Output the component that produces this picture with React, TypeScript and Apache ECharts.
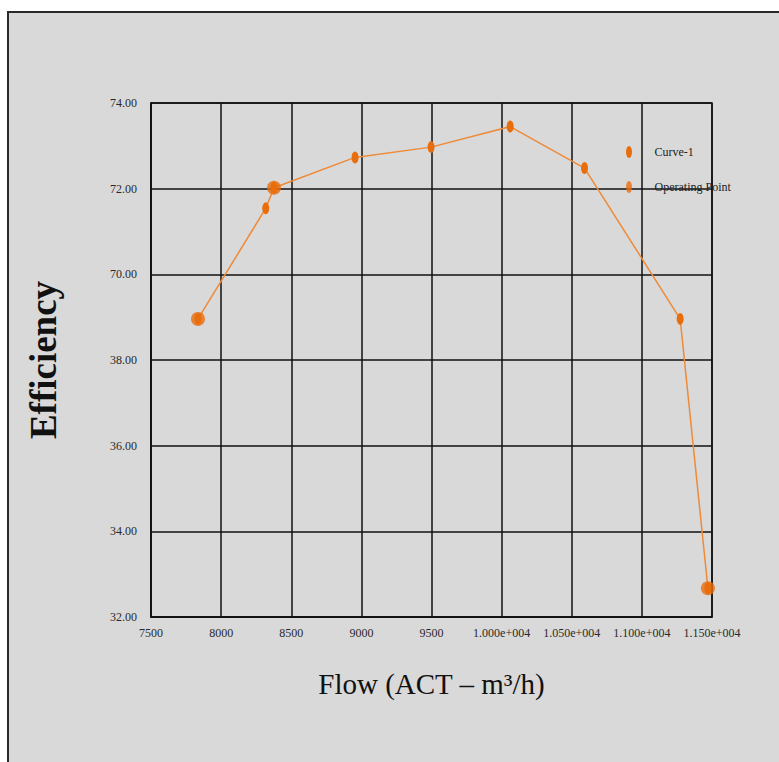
import React, { useEffect, useRef } from "react";
import * as echarts from "echarts";

const flow = [7835, 8318, 8377, 8955, 9497, 10061, 10591, 11273, 11471];
const efficiency = [68.96, 71.54, 72.02, 72.73, 72.97, 73.45, 72.48, 68.96, 62.67];
const opFlow = [7835, 8377, 11471];
const opEfficiency = [68.96, 72.02, 62.67];
const yTickLabels = ["32.00", "34.00", "36.00", "38.00", "70.00", "72.00", "74.00"];
const xTickLabels = ["7500", "8000", "8500", "9000", "9500", "1.000e+004", "1.050e+004", "1.100e+004", "1.150e+004"];

const ELLIPSE = "path://M5,0A5,10,0,1,1,5,20A5,10,0,1,1,5,0Z";
const SERIF = "'Liberation Serif', 'DejaVu Serif', serif";

export default function App() {
  const ref = useRef<HTMLDivElement>(null);
  useEffect(() => {
    if (!ref.current) return;
    const chart = echarts.init(ref.current, null, { renderer: "svg" });
    chart.setOption({
      animation: false,
      backgroundColor: "#ffffff",
      graphic: [
        {
          type: "rect",
          z: -10,
          silent: true,
          shape: { x: 8, y: 12, width: 800, height: 800 },
          style: { fill: "#d9d9d9", stroke: "#2a2a2a", lineWidth: 2 },
        },
      ],
      grid: { left: 151, top: 103, width: 561, height: 514, show: true, borderColor: "#111", borderWidth: 1.5 },
      legend: {
        orient: "vertical",
        left: 621,
        top: 141,
        itemWidth: 7,
        itemHeight: 12,
        itemGap: 23,
        textStyle: { fontFamily: SERIF, fontSize: 12, color: "#222", padding: [0, 0, 0, 17] },
        data: [
          { name: "Curve-1", icon: ELLIPSE },
          { name: "Operating Point", icon: ELLIPSE },
        ],
      },
      xAxis: {
        type: "value",
        min: 7500,
        max: 11500,
        interval: 500,
        name: "Flow (ACT \u2013 m\u00b3/h)",
        nameLocation: "middle",
        nameGap: 52,
        nameTextStyle: { fontFamily: SERIF, fontSize: 29, color: "#111" },
        axisLine: { show: true, lineStyle: { color: "#111", width: 1.5 } },
        axisTick: { show: false },
        splitLine: { show: true, lineStyle: { color: "#111", width: 1.5 } },
        axisLabel: {
          fontFamily: SERIF,
          fontSize: 12,
          color: "#2a2a2a",
          margin: 10,
          formatter: (_v: number, i: number) => xTickLabels[i] ?? "",
        },
      },
      yAxis: {
        type: "value",
        min: 62,
        max: 74,
        interval: 2,
        name: "Efficiency",
        nameLocation: "middle",
        nameGap: 89,
        nameRotate: 90,
        nameTextStyle: { fontFamily: SERIF, fontSize: 37, fontWeight: "bold", color: "#111" },
        axisLine: { show: true, lineStyle: { color: "#111", width: 1.5 } },
        axisTick: { show: false },
        splitLine: { show: true, lineStyle: { color: "#111", width: 1.5 } },
        axisLabel: {
          fontFamily: SERIF,
          fontSize: 12,
          color: "#2a2a2a",
          margin: 14,
          formatter: (_v: number, i: number) => yTickLabels[i] ?? "",
        },
      },
      series: [
        {
          name: "Curve-1",
          type: "line",
          data: flow.map((f, i) => [f, efficiency[i]]),
          symbol: ELLIPSE,
          symbolSize: [7, 12],
          lineStyle: { color: "#ee8a38", width: 1.5 },
          itemStyle: { color: "#e86d0c" },
          z: 3,
        },
        {
          name: "Operating Point",
          type: "scatter",
          data: opFlow.map((f, i) => [f, opEfficiency[i]]),
          symbol: "circle",
          symbolSize: 14,
          itemStyle: { color: "#e86d0c" },
          z: 4,
        },
      ],
    });
    return () => chart.dispose();
  }, []);
  return <div ref={ref} style={{ position: "fixed", left: 0, top: 0, width: 779, height: 762 }} />;
}
